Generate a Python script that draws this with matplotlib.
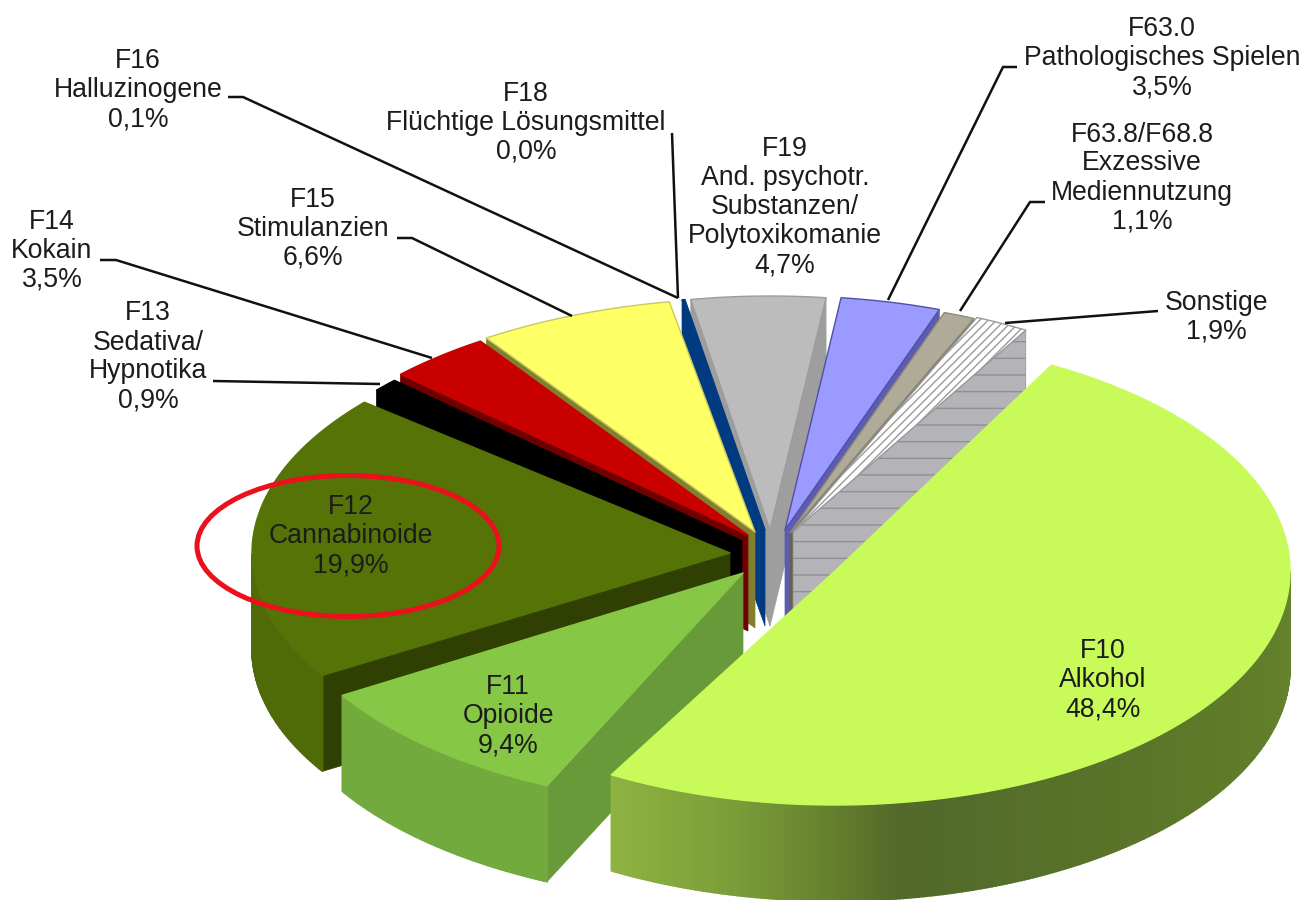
#!/usr/bin/env python3
# -*- coding: utf-8 -*-
import numpy as np
import matplotlib.pyplot as plt
from matplotlib.patches import Polygon, Ellipse
from matplotlib.colors import to_rgb

plt.rcParams['font.family'] = ['Liberation Sans', 'DejaVu Sans']
plt.rcParams['hatch.linewidth'] = 1.0

# data
codes = ['F10', 'F11', 'F12', 'F13', 'F14', 'F15', 'F16', 'F18', 'F19',
         'F63.0', 'F63.8/F68.8', 'Sonstige']
names = ['Alkohol', 'Opioide', 'Cannabinoide', 'Sedativa/\nHypnotika', 'Kokain',
         'Stimulanzien', 'Halluzinogene', 'Flüchtige Lösungsmittel',
         'And. psychotr.\nSubstanzen/\nPolytoxikomanie', 'Pathologisches Spielen',
         'Exzessive\nMediennutzung', '']
shares = [48.4, 9.4, 19.9, 0.9, 3.5, 6.6, 0.1, 0.0, 4.7, 3.5, 1.1, 1.9]

# layout, pixels of the 1307x900 picture
start_angle = 30.4
ry = 234
depth = 96
apex_x = [835, 743, 730, 742, 748, 755, 765, 765, 770, 785, 790, 793]
apex_y = [571, 573, 553, 541, 535, 532, 530, 530, 530, 530, 533, 532]
rx = [455, 470, 478, 478, 478, 480, 465, 465, 460, 460, 460, 460]
# the big slice looks a little wider than its share because of the perspective
sweep_start = [-2.0, 0, 0, 0, 0, 0, 0, 0, 0, 0, 0, 0]
sweep_end = [4.8, 0, 0, 0, 0, 0, 0, 0, 0, 0, 0, 0]
draw_order = [8, 9, 10, 11, 6, 5, 4, 3, 2, 1, 0]

top_colors = ['#c8fb5a', '#86c846', '#567308', '#000000', '#c80000', '#ffff66',
              '#003a80', '#003a80', '#bcbcbc', '#9a9aff', '#b0aa98', '#ffffff']
edge_colors = ['#c8fb5a', '#86c846', '#567308', '#000000', '#c80000', '#c8c860',
               '#003a80', '#003a80', '#9c9c9c', '#5050a8', '#8e8a78', '#9a9a9a']
cut_colors = ['#8fb342', '#689a3a', '#2f4002', '#000000', '#700000', '#80802f',
              '#003a80', '#003a80', '#9e9e9e', '#5c5cb0', '#66624f', '#b4b4b8']
outer_colors = ['#6b8a2e', '#72aa3e', '#4f6a06', '#000000', '#900000', '#80802f',
                '#003a80', '#003a80', '#9e9e9e', '#5c5cb0', '#66624f', '#b4b4b8']

label_x = [1103, 508, 351, 148, 52, 313, 138, 526, 785, 1162, 1142, 1216]
label_y = [680, 716, 536, 357, 251, 229, 90, 123, 207, 58, 178, 317]

leaders = {
    'F13': ([213, 380], [381, 384]),
    'F14': ([100, 116, 432], [260, 260, 358]),
    'F15': ([397, 412, 572], [238, 238, 316]),
    'F16': ([228, 243, 678], [97, 97, 298]),
    'F18': ([672, 678], [133, 298]),
    'F63.0': ([1017, 1003, 888], [67, 67, 300]),
    'F63.8': ([1045, 1030, 960], [202, 202, 311]),
    'Sonstige': ([1158, 1005], [311, 323]),
}


def alkohol_shade(t):
    # side wall of the big slice gets darker towards the middle, light at the left end
    stops = [90, 130, 172, 180, 192, 209]
    cols = ['#66852c', '#5c7829', '#52692a', '#657f2d', '#7a9c38', '#8fb342']
    rgb = np.array([to_rgb(c) for c in cols])
    return tuple(np.interp(t, stops, rgb[:, i]) for i in range(3))


def arc_points(i, a0, a1):
    n = max(int(abs(a1 - a0) * 2), 2)
    t = np.radians(np.linspace(a0, a1, n))
    x = apex_x[i] + rx[i] * np.sin(t)
    y = apex_y[i] - ry * np.cos(t)
    return np.degrees(t), x, y


def draw_slice(ax, i, a0, a1):
    t, x, y = arc_points(i, a0, a1)
    striped = codes[i] == 'Sonstige'
    hatch_wall = '-' if striped else None
    wall_edge = '#909094' if striped else None
    # cut faces, only the ones that look at the viewer
    for px, py, visible in [(x[0], y[0], x[0] < apex_x[i]), (x[-1], y[-1], x[-1] > apex_x[i])]:
        if visible:
            quad = [(apex_x[i], apex_y[i]), (px, py), (px, py + depth), (apex_x[i], apex_y[i] + depth)]
            ax.add_patch(Polygon(quad, facecolor=cut_colors[i], edgecolor=wall_edge or cut_colors[i],
                                 lw=0.5, hatch=hatch_wall))
    # outer wall in small pieces so that it can be shaded
    for k in range(len(t) - 1):
        if x[k + 1] < x[k]:
            col = alkohol_shade(t[k]) if codes[i] == 'F10' else outer_colors[i]
            quad = [(x[k], y[k]), (x[k + 1], y[k + 1]), (x[k + 1], y[k + 1] + depth), (x[k], y[k] + depth)]
            ax.add_patch(Polygon(quad, facecolor=col, edgecolor=col, lw=1.2))
    # top
    pts = [(apex_x[i], apex_y[i])] + list(zip(x, y))
    ax.add_patch(Polygon(pts, facecolor=top_colors[i], edgecolor=edge_colors[i], lw=1.0,
                         hatch='////' if striped else None, joinstyle='round'))


fig = plt.figure(figsize=(13.07, 9), dpi=100)
ax = fig.add_axes([0, 0, 1, 1])
ax.set_xlim(0, 1307)
ax.set_ylim(900, 0)
ax.axis('off')

ends = start_angle + np.cumsum(shares) * 3.6
starts = ends - np.array(shares) * 3.6

for i in draw_order:
    draw_slice(ax, i, starts[i] + sweep_start[i], ends[i] + sweep_end[i])

for xs, ys in leaders.values():
    ax.plot(xs, ys, color='#111111', lw=1.8, solid_capstyle='butt')

for i in range(len(codes)):
    parts = [codes[i], names[i], f'{shares[i]:.1f}%'.replace('.', ',')]
    if codes[i] == 'Sonstige':
        parts = [codes[i], parts[2]]
    ax.text(label_x[i], label_y[i], '\n'.join(parts), ha='center', va='center',
            fontsize=19.2, color='#1c1c1c', linespacing=1.15)

# red mark round the cannabis label
ax.add_patch(Ellipse((348, 546), 302, 141, fill=False, edgecolor='#ec0f1c', lw=3.6))

fig.savefig('out.png', dpi=100)
